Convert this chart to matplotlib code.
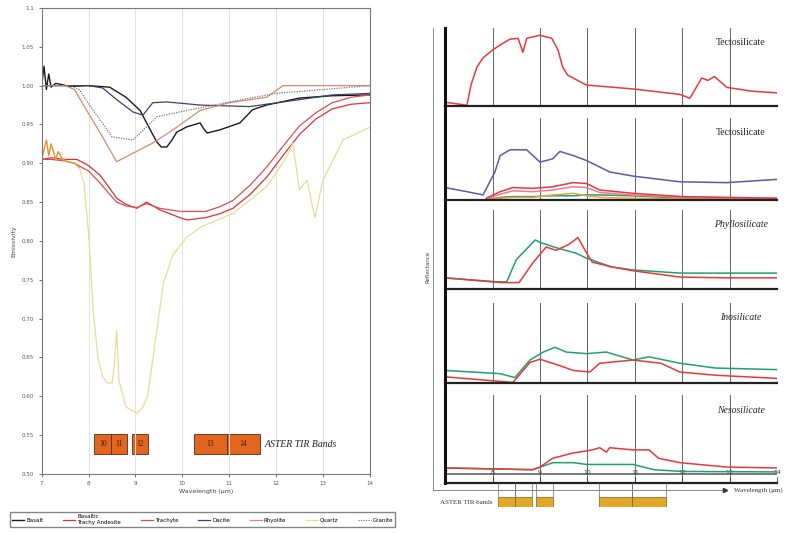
import matplotlib
matplotlib.use('Agg')
import matplotlib.pyplot as plt
from matplotlib.transforms import blended_transform_factory
from matplotlib.patches import Rectangle

# ---- left panel: emissivity spectra ----
basalt_wl = [7.0, 7.05, 7.1, 7.15, 7.2, 7.3, 7.6, 8.0, 8.45, 8.8, 9.1, 9.3, 9.45, 9.55, 9.67, 9.78, 9.88,
             10.1, 10.38, 10.45, 10.53, 10.8, 11.23, 11.5, 11.8, 12.5, 13.2, 14.0]
basalt_em = [1.00, 1.025, 0.995, 1.015, 0.998, 1.003, 0.999, 1.0, 0.998, 0.985, 0.968, 0.945, 0.928, 0.921,
             0.921, 0.93, 0.94, 0.947, 0.952, 0.945, 0.939, 0.943, 0.952, 0.969, 0.975, 0.984, 0.987, 0.988]

bta_wl = [7.0, 7.2, 7.5, 7.75, 8.0, 8.24, 8.45, 8.6, 8.8, 9.03, 9.24, 9.52, 9.95, 10.1, 10.5, 10.8, 11.08,
          11.45, 11.8, 12.15, 12.5, 12.85, 13.2, 13.6, 14.0]
bta_em = [0.905, 0.907, 0.905, 0.905, 0.897, 0.885, 0.868, 0.855, 0.847, 0.842, 0.85, 0.84, 0.83, 0.827,
          0.83, 0.835, 0.842, 0.86, 0.882, 0.91, 0.937, 0.957, 0.970, 0.976, 0.978]

trachyte_wl = [7.0, 7.2, 7.5, 7.7, 8.0, 8.24, 8.45, 8.6, 8.8, 9.03, 9.24, 9.52, 9.95, 10.5, 10.8, 11.08,
               11.45, 11.8, 12.15, 12.5, 12.85, 13.2, 13.6, 14.0]
trachyte_em = [0.905, 0.905, 0.903, 0.9, 0.89, 0.875, 0.86, 0.85, 0.845, 0.843, 0.848, 0.842, 0.838, 0.838,
               0.844, 0.852, 0.872, 0.895, 0.922, 0.948, 0.965, 0.978, 0.985, 0.988]

dacite_wl = [7.0, 8.0, 8.3, 8.6, 8.95, 9.16, 9.37, 9.67, 10.38, 11.44, 12.5, 13.2, 14.0]
dacite_em = [1.0, 1.0, 0.997, 0.982, 0.966, 0.962, 0.978, 0.979, 0.975, 0.973, 0.982, 0.988, 0.99]

rhyolite_wl = [7.0, 7.5, 7.7, 7.96, 8.24, 8.6, 8.95, 9.37, 9.8, 10.38, 11.0, 11.8, 12.15, 13.0, 14.0]
rhyolite_em = [1.0, 1.0, 0.995, 0.968, 0.94, 0.902, 0.913, 0.926, 0.943, 0.968, 0.978, 0.985, 1.0, 1.0, 1.0]

quartz_wl = [7.0, 7.1, 7.15, 7.2, 7.3, 7.35, 7.45, 7.55, 7.7, 7.8, 7.9, 8.0, 8.1, 8.2, 8.3, 8.4, 8.5,
             8.55, 8.6, 8.65, 8.8, 9.03, 9.15, 9.26, 9.45, 9.6, 9.8, 10.1, 10.4, 11.1, 11.8, 12.2, 12.36,
             12.5, 12.66, 12.83, 13.0, 13.43, 13.95, 14.0]
quartz_em = [0.905, 0.93, 0.91, 0.925, 0.905, 0.915, 0.905, 0.902, 0.9, 0.895, 0.875, 0.81, 0.71, 0.65,
             0.625, 0.617, 0.617, 0.64, 0.685, 0.62, 0.586, 0.578, 0.585, 0.6, 0.682, 0.746, 0.782, 0.805,
             0.818, 0.836, 0.87, 0.905, 0.926, 0.866, 0.878, 0.83, 0.878, 0.93, 0.945, 0.946]

granite_wl = [7.0, 7.6, 7.8, 8.1, 8.4, 8.5, 8.95, 9.24, 9.46, 10.1, 11.1, 12.0, 13.0, 14.0]
granite_em = [1.0, 1.0, 0.995, 0.968, 0.943, 0.934, 0.93, 0.947, 0.96, 0.968, 0.98, 0.99, 0.995, 1.0]

# ASTER TIR bands (um)
band_names = ['10', '11', '12', '13', '14']
band_lo = [8.125, 8.475, 8.925, 10.25, 10.95]
band_hi = [8.475, 8.825, 9.275, 10.95, 11.65]

# ---- right panel: reflectance by silicate class ----
panel_names = ['Tectosilicate', 'Tectosilicate', 'Phyllosilicate', 'Inosilicate', 'Nesosilicate']

tecto1_wl = [7.0, 7.46, 7.55, 7.67, 7.8, 8.0, 8.2, 8.37, 8.54, 8.64, 8.72, 9.0, 9.25, 9.38, 9.48, 9.58,
             9.7, 9.98, 10.96, 11.95, 12.16, 12.41, 12.54, 12.68, 12.94, 13.48, 14.0]
tecto1_red = [0.05, 0.01, 0.28, 0.5, 0.62, 0.72, 0.80, 0.86, 0.87, 0.69, 0.87, 0.91, 0.87, 0.72, 0.50,
              0.40, 0.36, 0.27, 0.22, 0.15, 0.10, 0.36, 0.33, 0.38, 0.24, 0.19, 0.17]

tecto2_wl = [7.0, 7.46, 7.8, 8.05, 8.16, 8.37, 8.72, 9.0, 9.27, 9.42, 9.7, 9.98, 10.47, 10.96, 11.95, 12.94, 14.0]
tecto2_blue = [0.15, 0.10, 0.06, 0.34, 0.54, 0.61, 0.61, 0.46, 0.50, 0.59, 0.54, 0.48, 0.34, 0.29, 0.22, 0.21, 0.25]
tecto2_wl_b = [7.87, 8.16, 8.43, 8.85, 9.27, 9.7, 9.98, 10.26, 10.96, 12.0, 14.0]
tecto2_red = [0.02, 0.10, 0.15, 0.14, 0.16, 0.21, 0.20, 0.12, 0.08, 0.04, 0.02]
tecto2_pink = [0.01, 0.07, 0.11, 0.10, 0.12, 0.16, 0.15, 0.09, 0.06, 0.03, 0.02]
tecto2_green = [0.0, 0.03, 0.04, 0.04, 0.05, 0.05, 0.06, 0.06, 0.05, 0.02, 0.01]
tecto2_orange = [0.0, 0.02, 0.03, 0.03, 0.06, 0.08, 0.05, 0.03, 0.02, 0.01, 0.01]

phyllo_wl_g = [7.0, 8.1, 8.3, 8.5, 8.9, 9.0, 9.3, 9.77, 9.98, 10.5, 10.96, 11.95, 12.94, 14.0]
phyllo_green = [0.14, 0.09, 0.09, 0.37, 0.62, 0.59, 0.53, 0.45, 0.39, 0.28, 0.24, 0.20, 0.20, 0.20]
phyllo_wl_r = [7.0, 8.16, 8.56, 8.85, 9.13, 9.34, 9.6, 9.8, 9.95, 10.1, 10.5, 10.96, 11.95, 12.94, 14.0]
phyllo_red = [0.14, 0.08, 0.08, 0.33, 0.53, 0.49, 0.56, 0.65, 0.49, 0.34, 0.28, 0.23, 0.15, 0.14, 0.14]

ino_wl_g = [7.0, 8.16, 8.47, 8.79, 9.07, 9.32, 9.55, 9.98, 10.4, 10.96, 11.3, 11.95, 12.7, 14.0]
ino_green = [0.16, 0.12, 0.07, 0.29, 0.39, 0.45, 0.39, 0.37, 0.39, 0.29, 0.33, 0.25, 0.19, 0.17]
ino_wl_r = [7.0, 8.43, 8.79, 9.0, 9.42, 9.7, 10.05, 10.26, 10.96, 11.55, 11.95, 12.7, 14.0]
ino_red = [0.08, 0.01, 0.26, 0.30, 0.22, 0.16, 0.14, 0.25, 0.29, 0.25, 0.14, 0.10, 0.06]

neso_wl_r = [7.0, 8.85, 9.0, 9.27, 9.7, 10.1, 10.26, 10.4, 10.47, 10.96, 11.3, 11.5, 11.95, 12.94, 14.0]
neso_red = [0.17, 0.15, 0.18, 0.28, 0.34, 0.375, 0.40, 0.35, 0.40, 0.375, 0.375, 0.28, 0.23, 0.18, 0.17]
neso_wl_g = [7.0, 8.85, 9.27, 9.7, 9.98, 10.5, 10.96, 11.4, 12.0, 14.0]
neso_green = [0.17, 0.15, 0.23, 0.23, 0.21, 0.21, 0.21, 0.15, 0.13, 0.125]
neso_wl_k = [7.0, 14.0]
neso_dark = [0.10, 0.10]

serif = 'Liberation Serif'

fig = plt.figure(figsize=(8.02, 5.33), dpi=100)

# ================= left =================
ax = fig.add_axes([0.052, 0.111, 0.409, 0.874])
ax.plot(basalt_wl, basalt_em, color='#1a1a1a', lw=1.0, label='Basalt')
ax.plot(bta_wl, bta_em, color='#e0303a', lw=0.9, label='Basaltic\nTrachy Andesite')
ax.plot(trachyte_wl, trachyte_em, color='#d85050', lw=0.9, label='Trachyte')
ax.plot(dacite_wl, dacite_em, color='#3a4070', lw=0.9, label='Dacite')
ax.plot(rhyolite_wl, rhyolite_em, color='#d48a70', lw=0.9, label='Rhyolite')
ax.plot(quartz_wl, quartz_em, color='#e8dc98', lw=0.9, label='Quartz')
ax.plot(quartz_wl[:10], quartz_em[:10], color='#e8902a', lw=0.9)
ax.plot(granite_wl, granite_em, color='#7a7a7a', lw=0.9, ls=(0, (1, 1)), label='Granite')

for name, lo, hi in zip(band_names, band_lo, band_hi):
    ax.add_patch(Rectangle((lo, 0.525), hi - lo, 0.026, facecolor='#e2661f', edgecolor='#5a2a10', lw=0.6))
    ax.text((lo + hi) / 2, 0.538, name, ha='center', va='center', fontsize=5.5, family=serif, color='#3a1a08')
ax.text(11.75, 0.538, 'ASTER TIR Bands', ha='left', va='center', fontsize=7,
        family=serif, style='italic', color='#222222')

ax.set_xlim(7, 14)
ax.set_ylim(0.5, 1.1)
ax.set_xticks(range(7, 15))
ax.set_yticks([0.5 + 0.05 * i for i in range(13)])
ax.set_yticklabels(['%.2f' % (0.5 + 0.05 * i) for i in range(12)] + ['1.1'])
ax.tick_params(labelsize=4, length=2, width=0.6, colors='#555555')
ax.grid(axis='x', color='#e2e2e2', lw=0.7)
for s in ax.spines.values():
    s.set_color('#777777')
    s.set_linewidth(0.8)
ax.set_xlabel('Wavelength (\u03bcm)', fontsize=4.5, labelpad=2, color='#444444')
ax.set_ylabel('Emissivity', fontsize=4.5, labelpad=4, color='#444444')

fig.legend(loc='lower left', bbox_to_anchor=(0.0125, 0.011, 0.48, 0.041), mode='expand',
           ncol=7, fontsize=4, handlelength=2.2, handletextpad=0.3, columnspacing=0.6,
           frameon=True, fancybox=False, edgecolor='#666666', borderaxespad=0)

# ================= right =================
left_r = 0.555
width_r = 0.414
panel_boxes = [(0.801, 0.146), (0.625, 0.154), (0.458, 0.148), (0.281, 0.150), (0.094, 0.165)]
panel_style = ['normal', 'normal', 'italic', 'italic', 'italic']

panel_curves = [
    [(tecto1_wl, tecto1_red, '#e8383c')],
    [(tecto2_wl, tecto2_blue, '#5a5aa8'), (tecto2_wl_b, tecto2_green, '#20a070'),
     (tecto2_wl_b, tecto2_orange, '#f0a040'), (tecto2_wl_b, tecto2_pink, '#f07a90'),
     (tecto2_wl_b, tecto2_red, '#e8383c')],
    [(phyllo_wl_g, phyllo_green, '#20a070'), (phyllo_wl_r, phyllo_red, '#e8383c')],
    [(ino_wl_g, ino_green, '#20a070'), (ino_wl_r, ino_red, '#e8383c')],
    [(neso_wl_k, neso_dark, '#555555'), (neso_wl_g, neso_green, '#20a070'),
     (neso_wl_r, neso_red, '#e8383c')],
]

axes_r = []
for i, (box, name) in enumerate(zip(panel_boxes, panel_names)):
    a = fig.add_axes([left_r, box[0], width_r, box[1]])
    for wl, vals, c in panel_curves[i]:
        a.plot(wl, vals, color=c, lw=1.1)
    a.set_xlim(7, 14)
    a.set_ylim(0, 1)
    for xv in range(8, 15):
        a.axvline(xv, color='#666666', lw=0.7, zorder=0)
    for s in ['top', 'right', 'left']:
        a.spines[s].set_visible(False)
    a.spines['bottom'].set_linewidth(1.6)
    a.spines['bottom'].set_color('#222222')
    a.set_yticks([])
    a.text(0.89, 0.82, name, transform=a.transAxes, ha='center', va='center', fontsize=7,
           family=serif, style=panel_style[i], color='#222222')
    if i < 4:
        a.set_xticks([])
    axes_r.append(a)

a5 = axes_r[-1]
a5.set_xticks(range(7, 15))
a5.tick_params(axis='x', direction='in', length=4, width=0.6, pad=-9, labelsize=4.5, colors='#333333')

# continuous thick left axis and outer frame
tr = blended_transform_factory(a5.transData, fig.transFigure)
fig.add_artist(plt.Line2D([7, 7], [0.094, 0.948], transform=tr, color='#111111', lw=2.2))
fig.add_artist(plt.Line2D([6.75, 6.75], [0.081, 0.948], transform=tr, color='#888888', lw=0.7))
fig.add_artist(plt.Line2D([6.75, 12.9], [0.081, 0.081], transform=tr, color='#888888', lw=0.7))
fig.add_artist(plt.Line2D([12.9], [0.081], transform=tr, marker='>', color='#333333', ms=3))
fig.text(0.915, 0.081, 'Wavelength (\u03bcm)', ha='left', va='center', fontsize=5, family=serif, color='#333333')
fig.text(0.534, 0.5, 'Reflectance', rotation=90, ha='center', va='center', fontsize=4, color='#444444')

# ASTER bands under the right panel
ab = fig.add_axes([left_r, 0.048, width_r, 0.046])
ab.set_xlim(7, 14)
ab.set_ylim(0, 1)
ab.axis('off')
for lo, hi in zip(band_lo, band_hi):
    ab.add_patch(Rectangle((lo, 0.0), hi - lo, 0.42, facecolor='#e0a828', edgecolor='#8a6010', lw=0.5))
    ab.plot([lo, lo], [0.42, 1.0], color='#666666', lw=0.5)
    ab.plot([hi, hi], [0.42, 1.0], color='#666666', lw=0.5)
ab.text(8.0, 0.21, 'ASTER TIR bands', ha='right', va='center', fontsize=5, family=serif, color='#333333')

fig.savefig('out.png', dpi=100)
